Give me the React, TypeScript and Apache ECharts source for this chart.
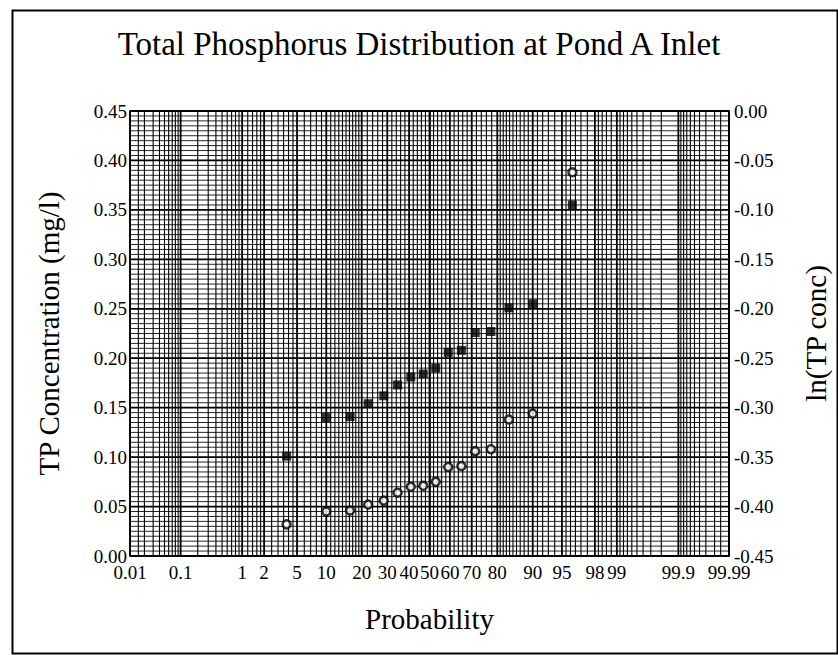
import React, { useEffect, useRef } from "react";
import * as echarts from "echarts";

// ---- data ----
const probabilities = [3.8, 10.0, 16.2, 22.3, 28.5, 34.6, 40.8, 46.9, 53.1, 59.2, 65.4, 71.5, 77.7, 83.8, 90.0, 96.2];
const tpConc = [0.101, 0.140, 0.141, 0.154, 0.162, 0.173, 0.181, 0.184, 0.190, 0.206, 0.208, 0.226, 0.227, 0.251, 0.255, 0.355];
const lnTpConc = [-0.418, -0.405, -0.404, -0.398, -0.394, -0.386, -0.380, -0.379, -0.375, -0.360, -0.359, -0.344, -0.342, -0.312, -0.306, -0.062];

const xTickLabels = ["0.01", "0.1", "1", "2", "5", "10", "20", "30", "40", "50", "60", "70", "80", "90", "95", "98", "99", "99.9", "99.99"];

// probability-paper grid segments (percent): [start, end, step]
const gridSegments = [
  [0.01, 0.02, 0.005],
  [0.02, 0.1, 0.01],
  [0.1, 1, 0.1],
  [1, 2, 0.2],
  [2, 5, 0.5],
  [5, 10, 1],
  [10, 20, 1],
  [20, 50, 2],
];

const FONT = "Liberation Serif";

function normInv(p: number): number {
  const a = [-3.969683028665376e1, 2.209460984245205e2, -2.759285104469687e2, 1.38357751867269e2, -3.066479806614716e1, 2.506628277459239];
  const b = [-5.447609879822406e1, 1.615858368580409e2, -1.556989798598866e2, 6.680131188771972e1, -1.328068155288572e1];
  const c = [-7.784894002430293e-3, -3.223964580411365e-1, -2.400758277161838, -2.549671348358144, 4.374664141464968, 2.938163982698783];
  const d = [7.784695709041462e-3, 3.224671290700398e-1, 2.445134137142996, 3.754408661907416];
  const pl = 0.02425;
  const ph = 1 - pl;
  if (p < pl) {
    const q = Math.sqrt(-2 * Math.log(p));
    return (((((c[0] * q + c[1]) * q + c[2]) * q + c[3]) * q + c[4]) * q + c[5]) / ((((d[0] * q + d[1]) * q + d[2]) * q + d[3]) * q + 1);
  }
  if (p <= ph) {
    const q = p - 0.5;
    const r = q * q;
    return ((((((a[0] * r + a[1]) * r + a[2]) * r + a[3]) * r + a[4]) * r + a[5]) * q) / (((((b[0] * r + b[1]) * r + b[2]) * r + b[3]) * r + b[4]) * r + 1);
  }
  const q = Math.sqrt(-2 * Math.log(1 - p));
  return -(((((c[0] * q + c[1]) * q + c[2]) * q + c[3]) * q + c[4]) * q + c[5]) / ((((d[0] * q + d[1]) * q + d[2]) * q + d[3]) * q + 1);
}

const z = (pct: number) => normInv(pct / 100);

export default function App() {
  const ref = useRef<HTMLDivElement>(null);

  useEffect(() => {
    if (!ref.current) return;
    const chart = echarts.init(ref.current, undefined, { renderer: "svg" });

    // vertical grid lines (probabilities)
    const lower: number[] = [];
    gridSegments.forEach(([s, e, st]) => {
      for (let v = s; v < e - 1e-9; v += st) lower.push(Math.round(v * 10000) / 10000);
    });
    const allP = new Set<number>();
    lower.forEach((p) => {
      allP.add(p);
      allP.add(Math.round((100 - p) * 10000) / 10000);
    });
    allP.add(50);
    const majorSet = new Set(xTickLabels.map((s) => parseFloat(s)));
    const vData = Array.from(allP)
      .filter((p) => p >= 0.01 && p <= 99.99)
      .map((p) => [z(p), majorSet.has(p) ? 1 : 0]);

    // horizontal grid lines every 0.005
    const hData: number[][] = [];
    for (let i = 0; i <= 90; i++) hData.push([i * 0.005, i % 10 === 0 ? 1 : 0]);

    const xMin = z(0.01);
    const xMax = z(99.99);
    const labelZ = xTickLabels.map((s) => z(parseFloat(s)));

    const option = {
      animation: false,
      backgroundColor: "#fff",
      title: {
        text: "Total Phosphorus Distribution at Pond A Inlet",
        left: "center",
        top: 22,
        textStyle: { fontFamily: FONT, fontSize: 33, fontWeight: "normal", color: "#000" },
      },
      grid: {
        left: 130,
        right: 100,
        top: 111,
        bottom: 99,
        show: true,
        borderColor: "#000",
        borderWidth: 1.5,
        backgroundColor: "transparent",
      },
      xAxis: {
        type: "value",
        min: xMin,
        max: xMax,
        name: "Probability",
        nameLocation: "middle",
        nameGap: 48,
        nameTextStyle: { fontFamily: FONT, fontSize: 29, color: "#000" },
        axisLine: { show: true, lineStyle: { color: "#000", width: 1.5 } },
        axisTick: { show: false },
        splitLine: { show: false },
        axisLabel: {
          customValues: labelZ,
          margin: 7,
          fontFamily: FONT,
          fontSize: 19,
          color: "#000",
          formatter: (v: number) => {
            let best = 0;
            let bd = Infinity;
            labelZ.forEach((lz, i) => {
              const dd = Math.abs(lz - v);
              if (dd < bd) {
                bd = dd;
                best = i;
              }
            });
            return xTickLabels[best];
          },
        },
      },
      yAxis: [
        {
          type: "value",
          min: 0,
          max: 0.45,
          interval: 0.05,
          name: "TP Concentration (mg/l)",
          nameLocation: "middle",
          nameGap: 67,
          nameRotate: 90,
          nameTextStyle: { fontFamily: FONT, fontSize: 29, color: "#000" },
          axisLine: { show: true, lineStyle: { color: "#000", width: 1.5 } },
          axisTick: { show: false },
          splitLine: { show: false },
          axisLabel: {
            margin: 3,
            fontFamily: FONT,
            fontSize: 19,
            color: "#000",
            formatter: (v: number) => v.toFixed(2),
          },
        },
        {
          type: "value",
          min: -0.45,
          max: 0,
          interval: 0.05,
          position: "right",
          name: "ln(TP conc)",
          nameLocation: "middle",
          nameGap: 72,
          nameRotate: 90,
          nameTextStyle: { fontFamily: FONT, fontSize: 29, color: "#000" },
          axisLine: { show: true, lineStyle: { color: "#000", width: 1.5 } },
          axisTick: { show: false },
          splitLine: { show: false },
          axisLabel: {
            margin: 5,
            fontFamily: FONT,
            fontSize: 19,
            color: "#000",
            formatter: (v: number) => (Math.abs(v) < 1e-9 ? "0.00" : v.toFixed(2)),
          },
        },
      ],
      graphic: [
        {
          type: "rect",
          left: 10,
          top: 8,
          shape: { x: 0, y: 0, width: 825, height: 643 },
          style: { fill: "none", stroke: "#000", lineWidth: 2 },
          silent: true,
        },
      ],
      series: [
        {
          type: "custom",
          xAxisIndex: 0,
          yAxisIndex: 0,
          z: 1,
          silent: true,
          data: vData,
          renderItem: (params: any, api: any) => {
            const x = api.value(0);
            const major = api.value(1);
            const p1 = api.coord([x, 0]);
            const p2 = api.coord([x, 0.45]);
            return {
              type: "line",
              shape: { x1: p1[0], y1: p1[1], x2: p2[0], y2: p2[1] },
              style: { stroke: "#000", lineWidth: major ? 1.8 : 1.1, opacity: 1 },
            };
          },
        },
        {
          type: "custom",
          xAxisIndex: 0,
          yAxisIndex: 0,
          z: 1,
          silent: true,
          data: hData,
          renderItem: (params: any, api: any) => {
            const y = api.value(0);
            const major = api.value(1);
            const p1 = api.coord([xMin, y]);
            const p2 = api.coord([xMax, y]);
            return {
              type: "line",
              shape: { x1: p1[0], y1: p1[1], x2: p2[0], y2: p2[1] },
              style: { stroke: "#000", lineWidth: major ? 1.8 : 1, opacity: major ? 1 : 0.85 },
            };
          },
        },
        {
          name: "TP concentration",
          type: "scatter",
          xAxisIndex: 0,
          yAxisIndex: 0,
          z: 5,
          symbol: "rect",
          symbolSize: 9,
          itemStyle: { color: "#000" },
          data: probabilities.map((p, i) => [z(p), tpConc[i]]),
        },
        {
          name: "ln(TP conc)",
          type: "scatter",
          xAxisIndex: 0,
          yAxisIndex: 1,
          z: 5,
          symbol: "circle",
          symbolSize: 8,
          itemStyle: { color: "#fff", borderColor: "#000", borderWidth: 2.5 },
          data: probabilities.map((p, i) => [z(p), lnTpConc[i]]),
        },
      ],
    };

    chart.setOption(option as any);
    return () => chart.dispose();
  }, []);

  return (
    <div
      ref={ref}
      style={{ position: "fixed", left: 0, top: 0, width: 838, height: 655, background: "#fff" }}
    />
  );
}
